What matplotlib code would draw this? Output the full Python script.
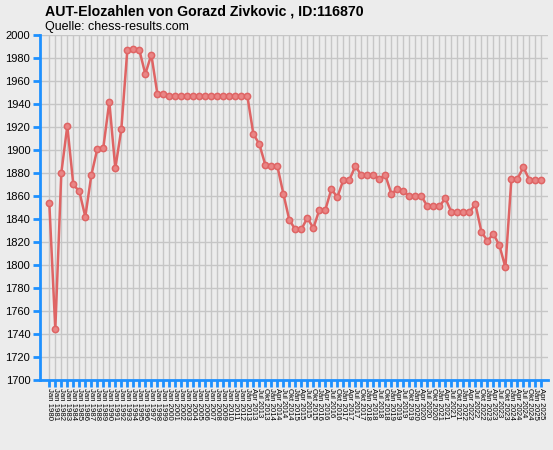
import numpy as np
import matplotlib
matplotlib.use('Agg')
import matplotlib.pyplot as plt

plt.rcParams['font.family'] = ['Liberation Sans', 'DejaVu Sans']

# Elo values, one per rating list
elo = [1854, 1744, 1880, 1921, 1870, 1864, 1842, 1878, 1901, 1902,
       1942, 1884, 1918, 1987, 1988, 1987, 1966, 1983, 1949, 1949,
       1947, 1947, 1947, 1947, 1947, 1947, 1947, 1947, 1947, 1947,
       1947, 1947, 1947, 1947, 1914, 1905, 1887, 1886, 1886, 1862,
       1839, 1831, 1831, 1841, 1832, 1848, 1848, 1866, 1859, 1874,
       1874, 1886, 1878, 1878, 1878, 1875, 1878, 1862, 1866, 1864,
       1860, 1860, 1860, 1851, 1851, 1851, 1858, 1846, 1846, 1846,
       1846, 1853, 1829, 1821, 1827, 1817, 1798, 1875, 1875, 1885,
       1874, 1874, 1874]

years_annual = ['1980', '1981', '1982', '1983', '1984', '1985', '1986', '1987',
                '1988', '1989', '1990', '1991', '1992', '1993', '1994', '1995',
                '1996', '1997', '1998', '1999', '2000', '2001', '2002', '2003',
                '2004', '2005', '2006', '2007', '2008', '2009', '2010', '2011',
                '2012', '2013']
years_quarterly = ['2013', '2014', '2015', '2016', '2017', '2018', '2019',
                   '2020', '2021', '2022', '2023', '2024', '2025']
months = ['Jan', 'Apr', 'Jul', 'Okt']

labels = ['Jan ' + y for y in years_annual]
for y in years_quarterly:
    for m in months:
        labels.append(m + ' ' + y)
labels = labels[:34] + labels[35:]   # Jan 2013 only once
labels = labels[:len(elo)]

yticks = list(range(1700, 2001, 20))

bg = '#ECECEC'
blue = '#1E90FF'
red = '#DF6464'

fig = plt.figure(figsize=(5.53, 4.5), dpi=100, facecolor=bg)
ax = fig.add_axes([40 / 553, 1 - 380 / 450, 508 / 553, 345 / 450])
ax.set_facecolor(bg)

x = np.arange(len(elo))
ax.plot(x, elo, color=red, lw=1.8, marker='o', ms=4.5,
        mfc='#E98585', mec=red, mew=1.1, zorder=3)

ax.set_xlim(-1.55, 83.1)
ax.set_ylim(1700, 2000)
ax.set_yticks(yticks)
ax.set_yticklabels([str(v) for v in yticks], fontsize=8)
ax.set_xticks(x)
ax.set_xticklabels(labels, rotation=270, fontsize=5.6, va='top', ha='center')

ax.grid(True, color='#C6C6C6', lw=1)
ax.set_axisbelow(True)
for s in ['top', 'right']:
    ax.spines[s].set_visible(False)
for s in ['left', 'bottom']:
    ax.spines[s].set_color(blue)
    ax.spines[s].set_linewidth(2)
ax.tick_params(axis='y', colors=blue, length=5, width=2, labelcolor='black', pad=2)
ax.tick_params(axis='x', colors=blue, length=5, width=2, labelcolor='black', pad=1)

fig.text(45 / 553, 1 - 11 / 450, 'AUT-Elozahlen von Gorazd Zivkovic , ID:116870',
         fontsize=10.2, fontweight='bold', va='center', ha='left')
fig.text(45 / 553, 1 - 27 / 450, 'Quelle: chess-results.com',
         fontsize=9, va='center', ha='left')

fig.savefig('out.png', dpi=100, facecolor=bg)
